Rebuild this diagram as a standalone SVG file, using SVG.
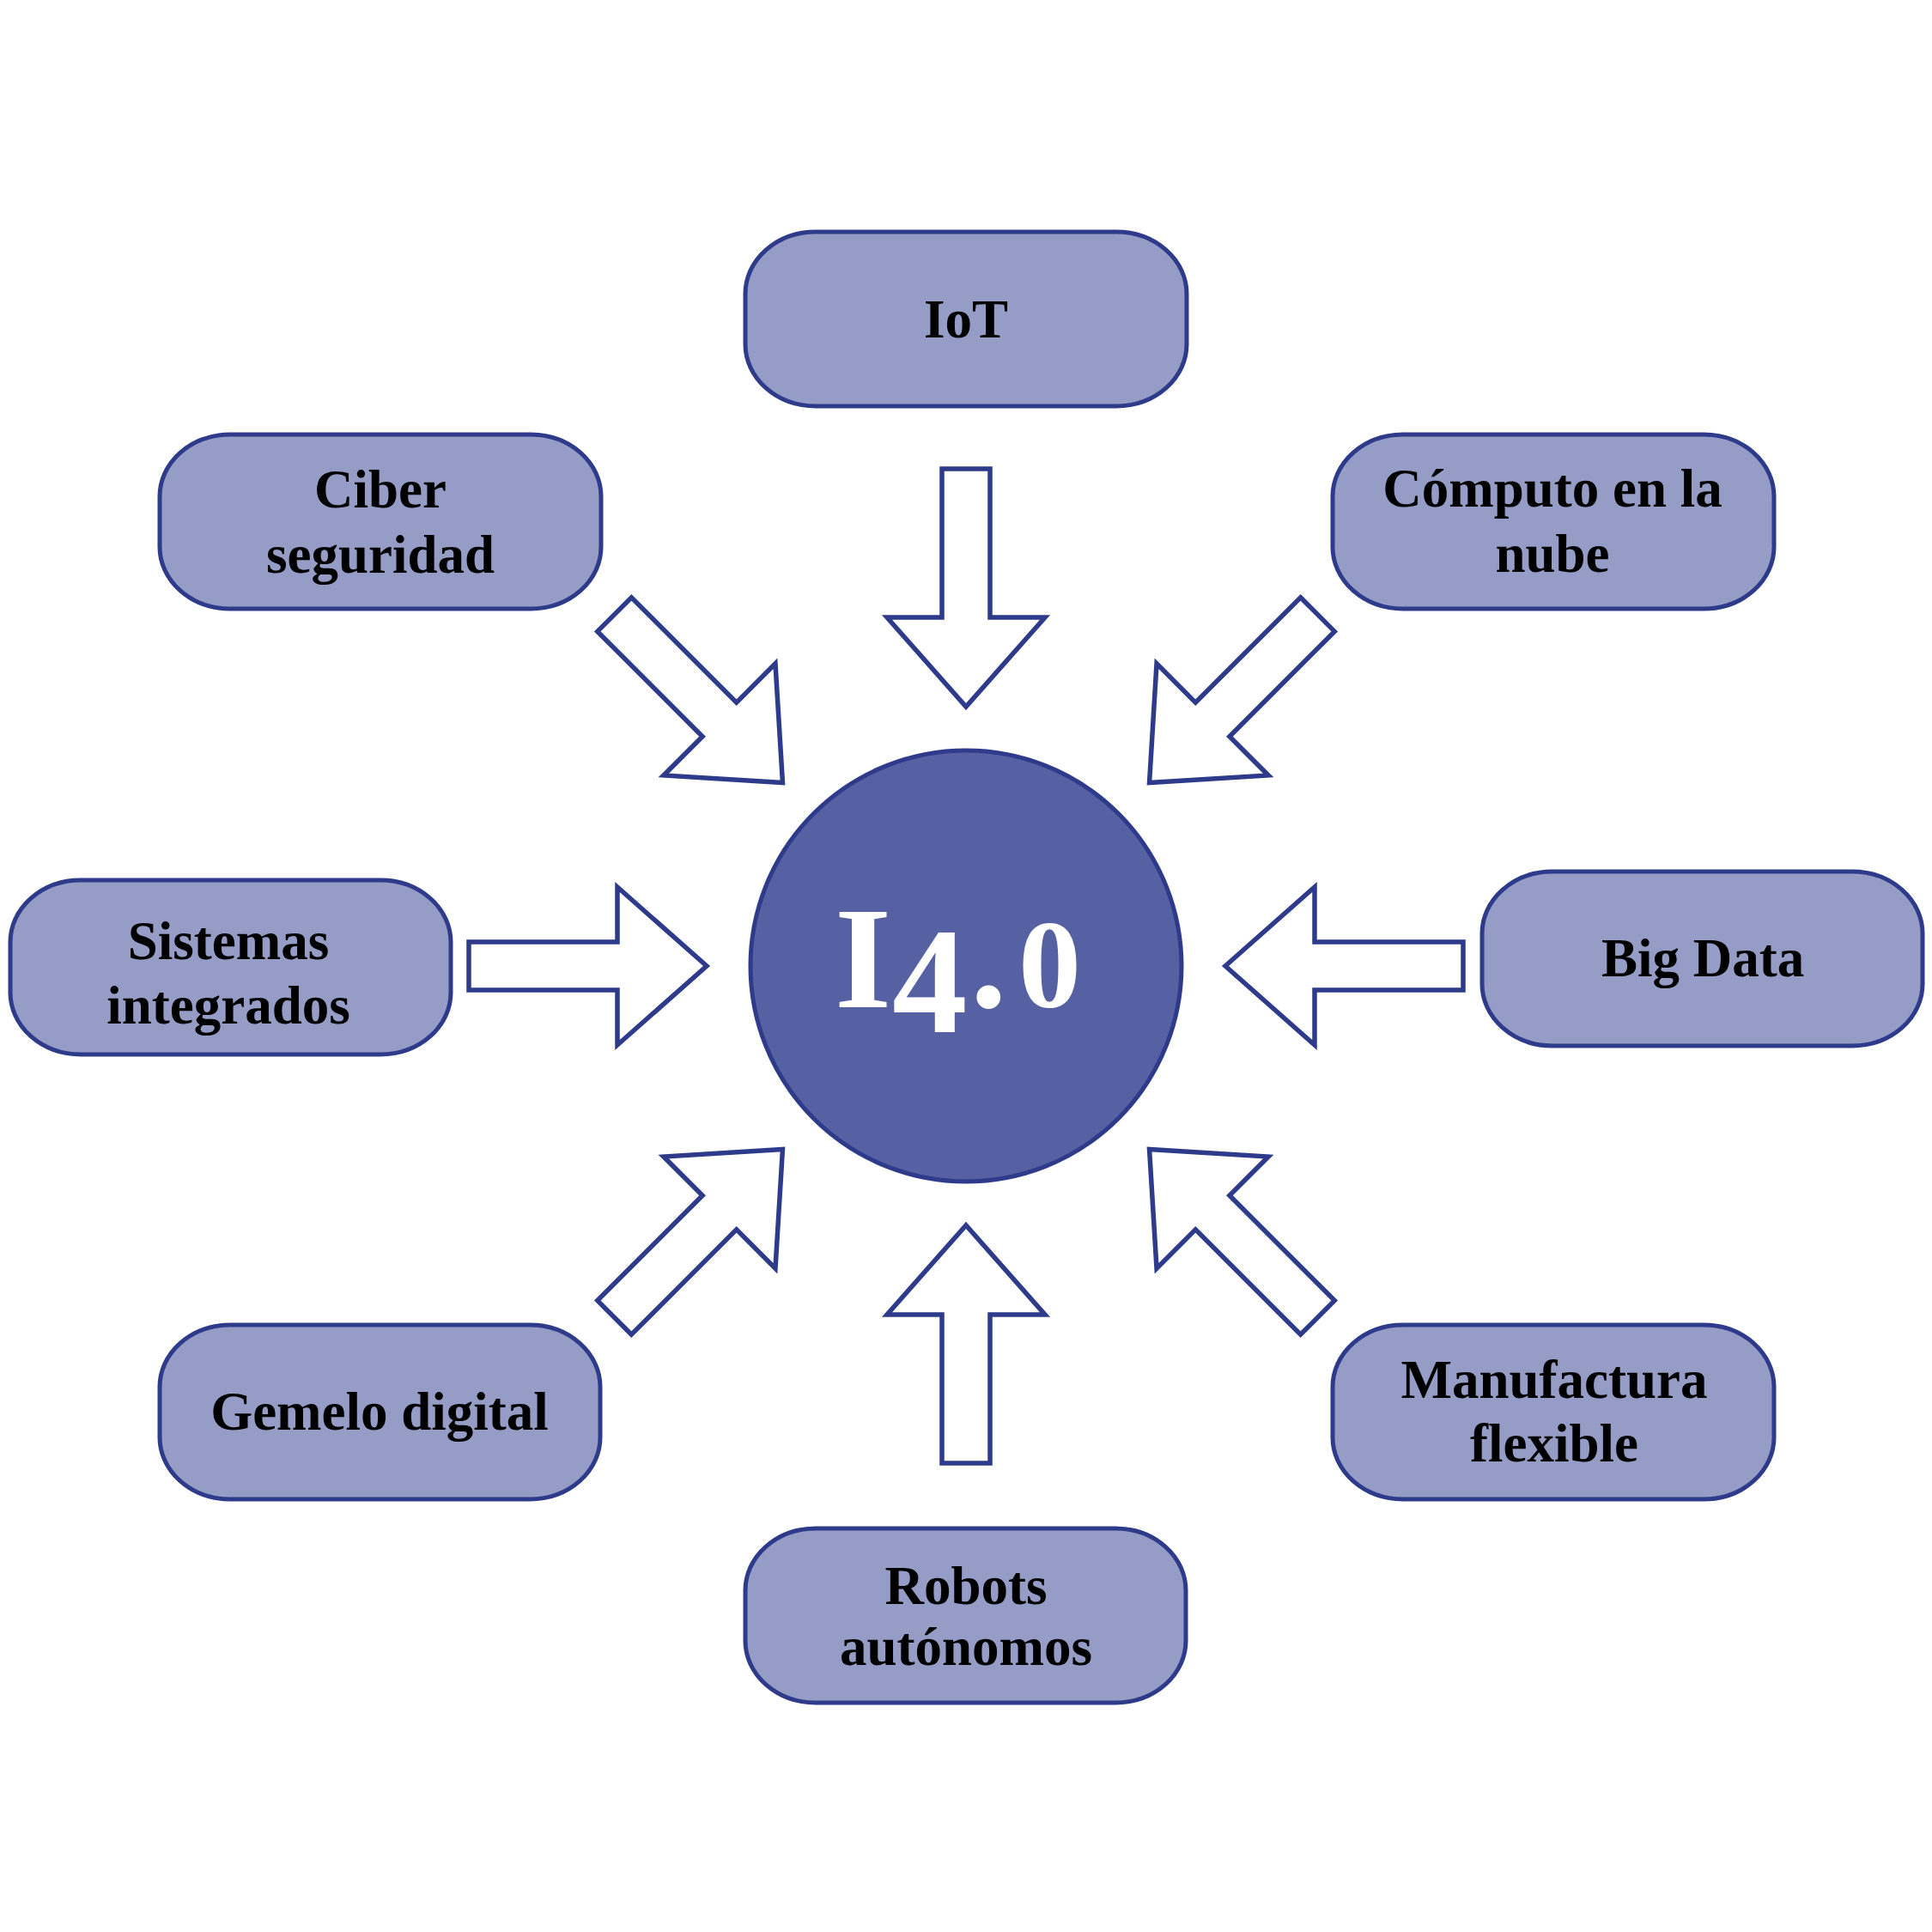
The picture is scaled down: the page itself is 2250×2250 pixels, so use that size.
<svg xmlns="http://www.w3.org/2000/svg" width="2250" height="2250" viewBox="0 0 2250 2250">
<defs>
<style>
.node rect{fill:#959DC6;stroke:#2E3A8A;stroke-width:5}
.lbl{font-family:"Liberation Serif","Times New Roman",serif;font-weight:bold;font-size:63px;fill:#000;text-anchor:middle}
.arrow{fill:#fff;stroke:#2E3A8A;stroke-width:5.5;stroke-linejoin:miter}
</style>
<polygon id="arr" class="arrow" points="1097,546 1153,546 1153,719 1217,719 1125,823 1033,719 1097,719"/>
</defs>
<rect width="2250" height="2250" fill="#fff"/>
<g id="connectors">
<use href="#arr"/>
<use href="#arr" transform="rotate(45 1125 1125)"/>
<use href="#arr" transform="rotate(90 1125 1125)"/>
<use href="#arr" transform="rotate(135 1125 1125)"/>
<use href="#arr" transform="rotate(180 1125 1125)"/>
<use href="#arr" transform="rotate(225 1125 1125)"/>
<use href="#arr" transform="rotate(270 1125 1125)"/>
<use href="#arr" transform="rotate(315 1125 1125)"/>
</g>
<g id="center">
<circle cx="1125" cy="1125" r="251" fill="#5561A2" stroke="#2E3A8A" stroke-width="5"/>
<text x="972" y="1173" font-family="'Liberation Serif','Times New Roman',serif" font-weight="bold" fill="#fff"><tspan font-size="170">I</tspan><tspan x="1039" dy="29" font-size="175">4</tspan><tspan x="1130" dy="-29" font-size="170">.</tspan><tspan x="1186" font-size="146">0</tspan></text>
</g>
<g id="iot" class="node">
<rect x="868" y="270" width="514" height="203" rx="82" ry="72"/>
<text class="lbl" x="1125" y="393">IoT</text>
</g>
<g id="ciber" class="node">
<rect x="186" y="506" width="514" height="203" rx="82" ry="72"/>
<text class="lbl" x="443" y="591">Ciber</text>
<text class="lbl" x="443" y="667">seguridad</text>
</g>
<g id="computo" class="node">
<rect x="1552" y="506" width="514" height="203" rx="82" ry="72"/>
<text class="lbl" x="1808" y="590">Cómputo en la</text>
<text class="lbl" x="1808" y="666">nube</text>
</g>
<g id="sistemas" class="node">
<rect x="12" y="1025" width="513" height="203" rx="82" ry="72"/>
<text class="lbl" x="266" y="1117">Sistemas</text>
<text class="lbl" x="266" y="1192">integrados</text>
</g>
<g id="bigdata" class="node">
<rect x="1726" y="1015" width="513" height="203" rx="82" ry="72"/>
<text class="lbl" x="1983" y="1137">Big Data</text>
</g>
<g id="gemelo" class="node">
<rect x="186" y="1543" width="513" height="203" rx="82" ry="72"/>
<text class="lbl" x="442" y="1665">Gemelo digital</text>
</g>
<g id="manufactura" class="node">
<rect x="1552" y="1543" width="514" height="203" rx="82" ry="72"/>
<text class="lbl" x="1810" y="1628">Manufactura</text>
<text class="lbl" x="1810" y="1702">flexible</text>
</g>
<g id="robots" class="node">
<rect x="868" y="1780" width="513" height="203" rx="82" ry="72"/>
<text class="lbl" x="1125" y="1868">Robots</text>
<text class="lbl" x="1125" y="1939">autónomos</text>
</g>
</svg>
